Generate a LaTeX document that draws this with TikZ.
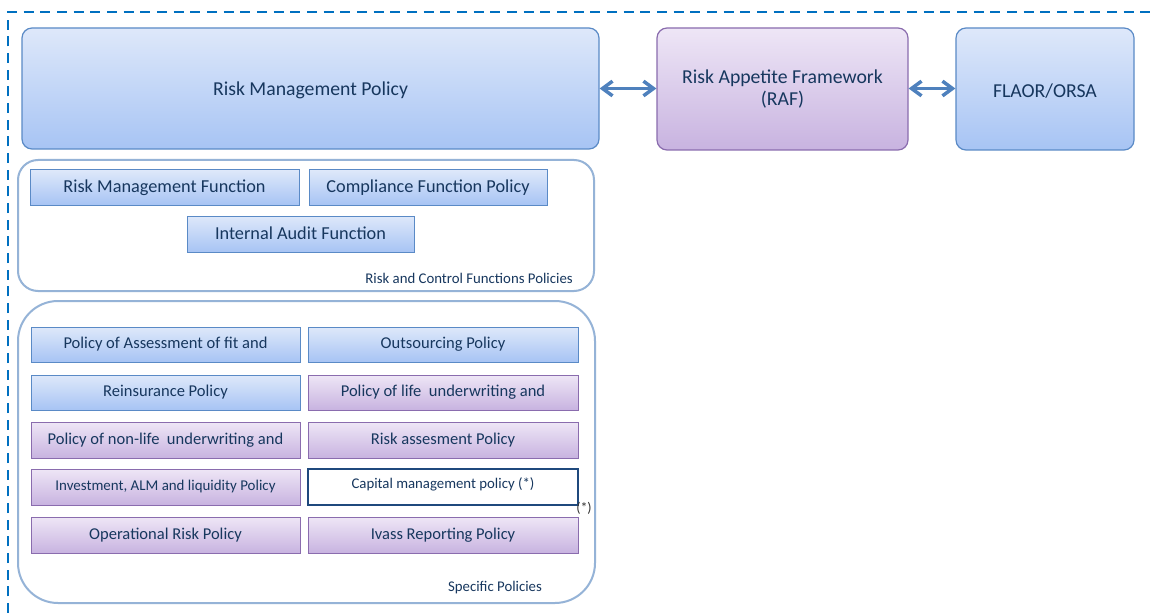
\documentclass[tikz,border=0pt]{standalone}
\usepackage{fontspec}
\setmainfont{Carlito}
\usetikzlibrary{arrows.meta}
\definecolor{txt}{HTML}{17375E}
\definecolor{dashc}{HTML}{0070C0}
\definecolor{arrc}{HTML}{4F81BD}
\definecolor{bluetop}{HTML}{DEE8FA}
\definecolor{bluebot}{HTML}{A7C4F4}
\definecolor{blueedge}{HTML}{5A8AC6}
\definecolor{purptop}{HTML}{EEE6F6}
\definecolor{purpbot}{HTML}{C8B3E0}
\definecolor{purpedge}{HTML}{8A6CAE}
\definecolor{contedge}{HTML}{95B3D7}
\definecolor{capedge}{HTML}{1F497D}
\tikzset{
  px/.style={x=0.75pt,y=-0.75pt},
  bigbox/.style={draw=blueedge, line width=0.9pt, rounded corners=7.5pt, inner sep=0pt, text=txt, font=\fontsize{14.8}{17}\selectfont, align=center},
  bluefill/.style={top color=bluetop, bottom color=bluebot},
  purpfill/.style={top color=purptop, bottom color=purpbot},
  cont/.style={draw=contedge, line width=1.5pt, inner sep=0pt},
  pbox/.style={draw, line width=0.75pt, inner sep=0pt, text=txt, font=\fontsize{12.4}{14}\selectfont},
  bpol/.style={pbox, bluefill, draw=blueedge},
  ppol/.style={pbox, purpfill, draw=purpedge},
  lab/.style={inner sep=0pt, text=txt, font=\fontsize{11.1}{13}\selectfont},
  dbl/.style={{Straight Barb[length=7.5pt,width=11pt]}-{Straight Barb[length=7.5pt,width=11pt]}, draw=arrc, line width=2.6pt}
}
\newcommand{\wpx}[1]{#1*0.75pt}
\newcommand{\lowtxt}[2]{\raisebox{#1}[\height][\depth]{#2}}
\begin{document}
\begin{tikzpicture}[px]
\useasboundingbox (0,0) rectangle (1156,613);
\fill[white] (0,0) rectangle (1156,613);
% dashed frame
\draw[dashc, line width=1.9pt, dash pattern=on 7.5pt off 5pt] (8,613) -- (8,12) -- (1156,12);

% top row
\node[bigbox, bluefill, minimum width=\wpx{577}, minimum height=\wpx{121}] (rmp) at (310.5,88.5) {\lowtxt{-1.5pt}{Risk Management Policy}};
\node[bigbox, purpfill, draw=purpedge, minimum width=\wpx{251}, minimum height=\wpx{122}] (raf) at (782.5,89) {Risk Appetite Framework\\(RAF)};
\node[bigbox, top color=bluetop, middle color=purptop!50!purpbot, bottom color=bluebot, draw=blueedge, minimum width=\wpx{178}, minimum height=\wpx{122}] (orsa) at (1045,89) {\lowtxt{-1.5pt}{FLAOR/ORSA}};
\draw[dbl] (rmp.east) -- (raf.west|-rmp.east);
\draw[dbl] (raf.east|-rmp.east) -- (orsa.west|-rmp.east);

% risk and control container
\node[cont, rounded corners=15pt, minimum width=\wpx{576}, minimum height=\wpx{131}] (rc) at (306,225.5) {};
\node[bpol, font=\fontsize{13.7}{16}\selectfont, minimum width=\wpx{269}, minimum height=\wpx{35}] (rmf) at (164.5,187.5) {Risk Management Function};
\node[bpol, font=\fontsize{13.7}{16}\selectfont, minimum width=\wpx{238}, minimum height=\wpx{35}] (cfp) at (428,187.5) {Compliance Function Policy};
\node[bpol, font=\fontsize{13.7}{16}\selectfont, minimum width=\wpx{227}, minimum height=\wpx{36}] (iaf) at (300.5,234) {\raisebox{1.2pt}{Internal Audit Function}};
\node[lab, anchor=east] (rclab) at (573,278) {Risk and Control Functions Policies};

% specific policies container
\node[cont, rounded corners=30pt, minimum width=\wpx{577}, minimum height=\wpx{302}] (sp) at (306.5,452) {};
\node[bpol, minimum width=\wpx{269}, minimum height=\wpx{35}] (p1) at (165.5,344.5) {\raisebox{1.5pt}{Policy of Assessment of fit and}};
\node[bpol, minimum width=\wpx{270}, minimum height=\wpx{35}] (p2) at (443,344.5) {Outsourcing Policy};
\node[bpol, minimum width=\wpx{269}, minimum height=\wpx{35}] (p3) at (165.5,392.5) {Reinsurance Policy};
\node[ppol, minimum width=\wpx{270}, minimum height=\wpx{35}] (p4) at (443,392.5) {\raisebox{1.5pt}{Policy of life\ \ underwriting and}};
\node[ppol, minimum width=\wpx{269}, minimum height=\wpx{36}] (p5) at (165.5,440) {\raisebox{1.5pt}{Policy of non-life\ \ underwriting and}};
\node[ppol, minimum width=\wpx{270}, minimum height=\wpx{36}] (p6) at (443,440) {Risk assesment Policy};
\node[ppol, font=\fontsize{11.2}{13}\selectfont, minimum width=\wpx{269}, minimum height=\wpx{36}] (p7) at (165.5,487) {Investment, ALM and liquidity Policy};
\node[pbox, draw=capedge, fill=white, line width=1.5pt, minimum width=\wpx{270}, minimum height=\wpx{36}] (p8) at (443,487) {};
\node[lab, anchor=north] (p8t) at (443,477) {Capital management policy (*)};
\node[ppol, minimum width=\wpx{269}, minimum height=\wpx{36}] (p9) at (165.5,535) {Operational Risk Policy};
\node[ppol, minimum width=\wpx{270}, minimum height=\wpx{36}] (p10) at (443,535) {Ivass Reporting Policy};
\node[lab, text=black!80, font=\fontsize{10.5}{12}\selectfont] (ast) at (584,508) {(*)};
\node[lab] (splab) at (495,588) {Specific Policies};
\end{tikzpicture}
\end{document}
